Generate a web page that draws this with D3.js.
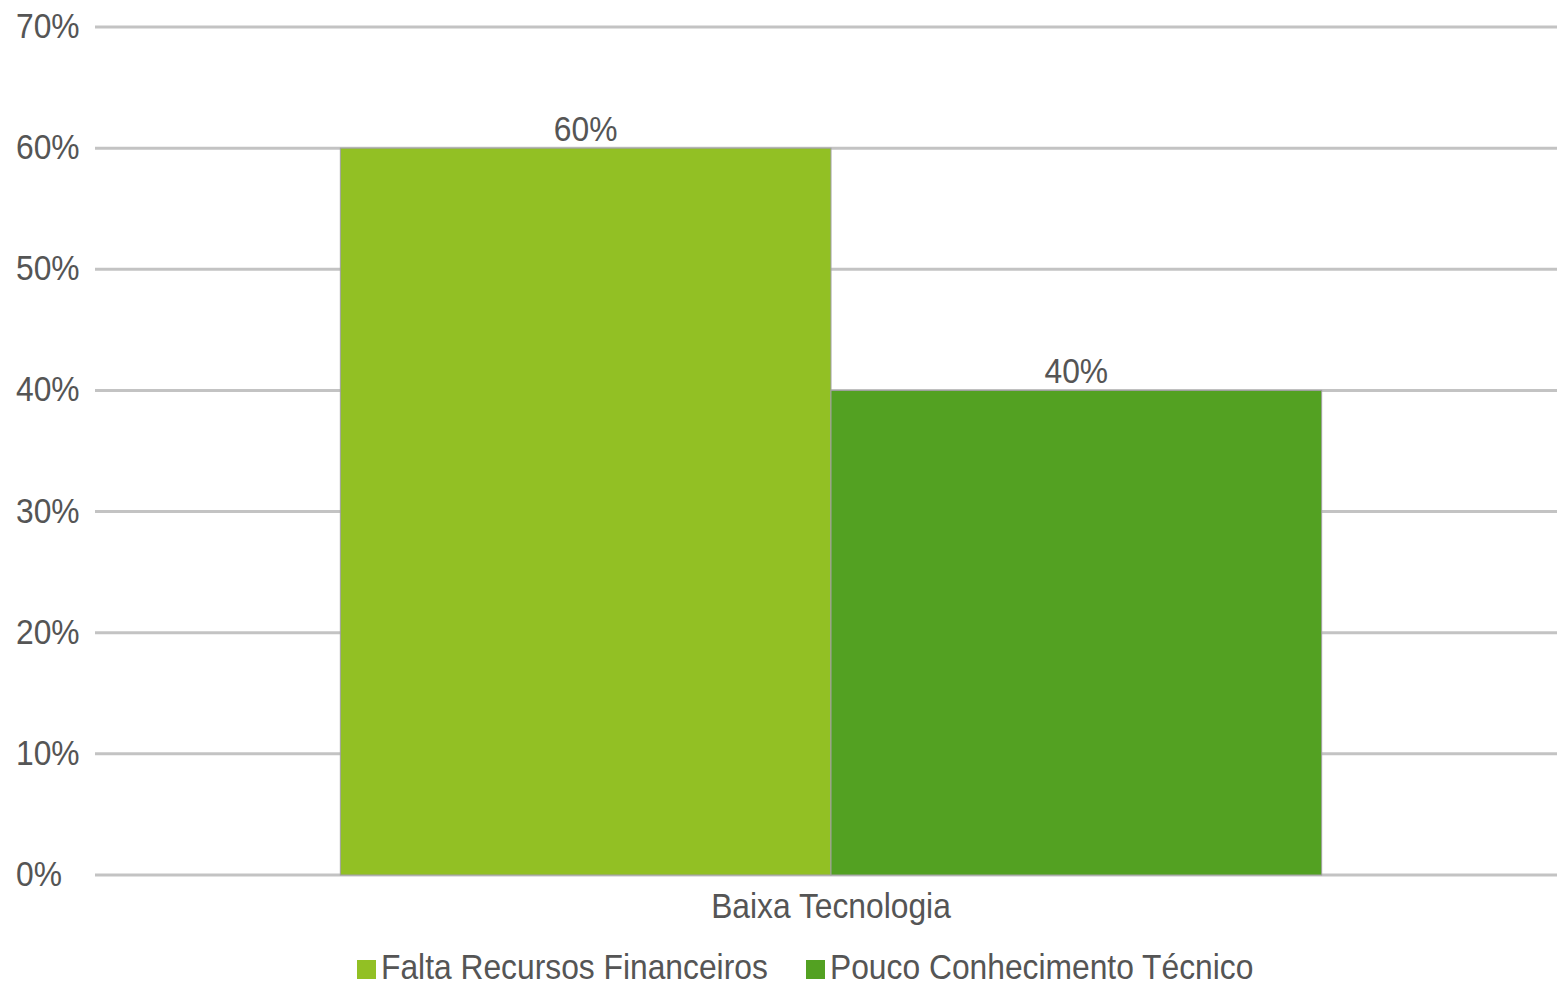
<!DOCTYPE html>
<html><head><meta charset="utf-8">
<script src="https://cdn.jsdelivr.net/npm/d3@7"></script>
<style>body{margin:0;background:#fff}svg{display:block}text{font-family:"Liberation Sans",Arial,sans-serif;fill:#555}</style>
</head><body>
<svg id="c" width="1557" height="986"></svg>
<script>
const categories = ["Baixa Tecnologia"];
const seriesNames = ["Falta Recursos Financeiros", "Pouco Conhecimento Técnico"];
const seriesValues = [[0.60], [0.40]];
const seriesColors = ["#92c024", "#53a122"];
const yTicks = [0, 0.1, 0.2, 0.3, 0.4, 0.5, 0.6, 0.7];

const svg = d3.select("#c");
const x0 = d3.scaleBand().domain(categories).range([95, 1567]).paddingInner(0).paddingOuter(0.25);
const x1 = d3.scaleBand().domain(seriesNames).range([0, x0.bandwidth()]);
const y = d3.scaleLinear().domain([0, 0.7]).range([875, 27]);
const fmt = d3.format(".0%");
const FS = 31.8;
const vs = 1.1;

function txt(g, x, yy, s, anchor) {
  return g.append("text").attr("transform", `translate(${x},${yy}) scale(1,${vs})`)
    .attr("text-anchor", anchor).attr("font-size", FS).text(s);
}

// gridlines
const grid = svg.append("g");
grid.selectAll("line").data(yTicks).join("line")
  .attr("x1", 95).attr("x2", 1557).attr("y1", d => y(d)).attr("y2", d => y(d))
  .attr("stroke", "#c3c3c3").attr("stroke-width", 3);
// y labels
const yl = svg.append("g");
yTicks.forEach(t => txt(yl, 16, y(t) + 11, fmt(t), "start"));

// bars
const bars = svg.append("g");
categories.forEach((c, ci) => {
  seriesNames.forEach((s, si) => {
    const v = seriesValues[si][ci];
    const bx = x0(c) + x1(s);
    bars.append("rect").attr("x", bx).attr("y", y(v)).attr("width", x1.bandwidth()).attr("height", y(0) - y(v))
      .attr("fill", seriesColors[si]).attr("stroke", "#a0a0a0").attr("stroke-width", 1);
    txt(bars, bx + x1.bandwidth() / 2, y(v) - 7, fmt(v), "middle");
  });
  txt(svg, x0(c) + x0.bandwidth() / 2, 918, c, "middle");
});

// legend
const lg = svg.append("g");
const legX = [357, 806];
seriesNames.forEach((s, i) => {
  lg.append("rect").attr("x", legX[i]).attr("y", 960).attr("width", 19).attr("height", 19).attr("fill", seriesColors[i]);
  txt(lg, legX[i] + 24, 979, s, "start");
});
</script>
</body></html>
